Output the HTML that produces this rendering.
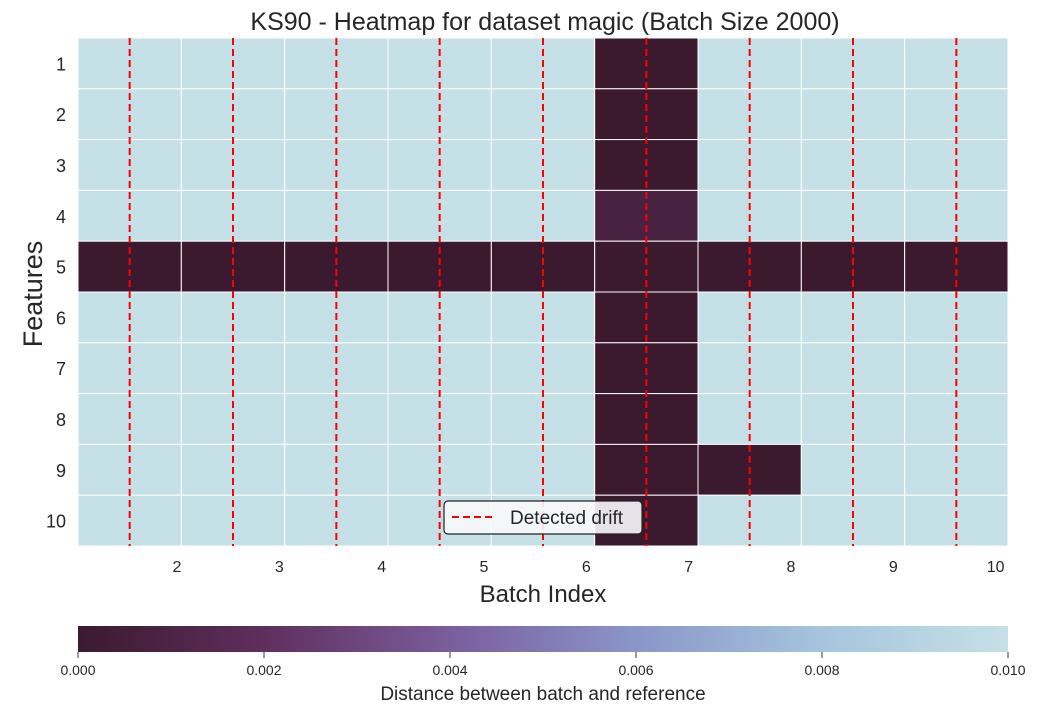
<!DOCTYPE html>
<html><head><meta charset="utf-8"><style>
body{margin:0;background:#fff;font-family:"Liberation Sans",sans-serif;}
svg text{font-family:"Liberation Sans",sans-serif;fill:#262626;}
</style></head><body>
<svg id="c" width="1037" height="716" viewBox="0 0 1037 716" xmlns="http://www.w3.org/2000/svg">
<defs><linearGradient id="cg" x1="0" x2="1" y1="0" y2="0">
<stop offset="0" stop-color="#3b1a2f"/><stop offset="0.2" stop-color="#5e2f5c"/><stop offset="0.4" stop-color="#7a5d9c"/><stop offset="0.6" stop-color="#8a96c9"/><stop offset="0.8" stop-color="#a6c5dd"/><stop offset="1" stop-color="#c5e0e6"/></linearGradient></defs>
<text x="545" y="30" font-size="25" text-anchor="middle">KS90 - Heatmap for dataset magic (Batch Size 2000)</text>
<g id="cells"></g><g id="grid"></g><g id="drift"></g><g id="ticks"></g>
<text x="543" y="602" font-size="24" text-anchor="middle">Batch Index</text>
<text transform="translate(42,294) rotate(-90)" font-size="27" text-anchor="middle">Features</text>
<g>
<rect x="444" y="501" width="198" height="33" rx="4" fill="#f8f9fc" fill-opacity="0.9" stroke="#222" stroke-width="1.2"/>
<line x1="452" y1="517" x2="494" y2="517" stroke="#ff0000" stroke-width="2" stroke-dasharray="7,4"/>
<text x="510" y="524" font-size="19">Detected drift</text></g>
<rect x="78" y="626" width="930" height="26" fill="url(#cg)"/>
<g id="cbt"></g>
<text x="543" y="700" font-size="19" text-anchor="middle">Distance between batch and reference</text>
</svg>
<script>
const batches=[2,3,4,5,6,7,8,9,10];
const features=[1,2,3,4,5,6,7,8,9,10];
// values[row][col]
const values=[
[0.01,0.01,0.01,0.01,0.01,0,0.01,0.01,0.01],
[0.01,0.01,0.01,0.01,0.01,0,0.01,0.01,0.01],
[0.01,0.01,0.01,0.01,0.01,0,0.01,0.01,0.01],
[0.01,0.01,0.01,0.01,0.01,0.0008,0.01,0.01,0.01],
[0,0,0,0,0,0,0,0,0],
[0.01,0.01,0.01,0.01,0.01,0,0.01,0.01,0.01],
[0.01,0.01,0.01,0.01,0.01,0,0.01,0.01,0.01],
[0.01,0.01,0.01,0.01,0.01,0,0.01,0.01,0.01],
[0.01,0.01,0.01,0.01,0.01,0,0,0.01,0.01],
[0.01,0.01,0.01,0.01,0.01,0,0.01,0.01,0.01]];
const driftBatches=[2,3,4,5,6,7,8,9,10];
const cbTicks=[0,0.002,0.004,0.006,0.008,0.01];
const X0=78,X1=1008,Y0=38,Y1=546,vmax=0.01;
const cw=(X1-X0)/batches.length,rh=(Y1-Y0)/features.length;
const xc=i=>X0+i*cw, yr=j=>Y0+j*rh;
const stops=[[0,[0x3b,0x1a,0x2f]],[0.2,[0x5e,0x2f,0x5c]],[0.4,[0x7a,0x5d,0x9c]],[0.6,[0x8a,0x96,0xc9]],[0.8,[0xa6,0xc5,0xdd]],[1,[0xc5,0xe0,0xe6]]];
function cmap(v){let t=Math.max(0,Math.min(1,v/vmax));for(let k=1;k<stops.length;k++){if(t<=stops[k][0]){const a=stops[k-1],b=stops[k],f=(t-a[0])/(b[0]-a[0]);return 'rgb('+a[1].map((c,i)=>Math.round(c+(b[1][i]-c)*f)).join(',')+')';}}return 'rgb(197,224,230)';}
const NS='http://www.w3.org/2000/svg';
function mk(tag,attrs,parent){const e=document.createElementNS(NS,tag);for(const k in attrs)e.setAttribute(k,attrs[k]);document.getElementById(parent).appendChild(e);return e;}
values.forEach((row,j)=>row.forEach((v,i)=>{
const r=mk('rect',{x:xc(i),y:yr(j),width:cw,height:rh,fill:cmap(v),stroke:'#fff','stroke-width':1},'cells');


}));
driftBatches.forEach(b=>{const i=batches.indexOf(b);
const l=mk('line',{x1:xc(i)+cw/2,x2:xc(i)+cw/2,y1:Y0,y2:Y1,stroke:'#ff0000','stroke-width':2,'stroke-dasharray':'7,4'},'drift');


});
const tw=(X1-X0-9)/batches.length;
batches.forEach((b,i)=>{const t=mk('text',{x:177+i*tw,y:572,'font-size':16,'text-anchor':'middle'},'ticks');t.textContent=b;

});
features.forEach((f,j)=>{const t=mk('text',{x:66,y:yr(j)+rh/2+7,'font-size':18,'text-anchor':'end'},'ticks');t.textContent=f;

});
cbTicks.forEach(v=>{const x=X0+(X1-X0)*v/vmax;
mk('line',{x1:x,x2:x,y1:652,y2:658,stroke:'#333','stroke-width':1},'cbt');
const t=mk('text',{x:x,y:675,'font-size':14,'text-anchor':'middle'},'cbt');t.textContent=v.toFixed(3);

});
</script>
</body></html>
